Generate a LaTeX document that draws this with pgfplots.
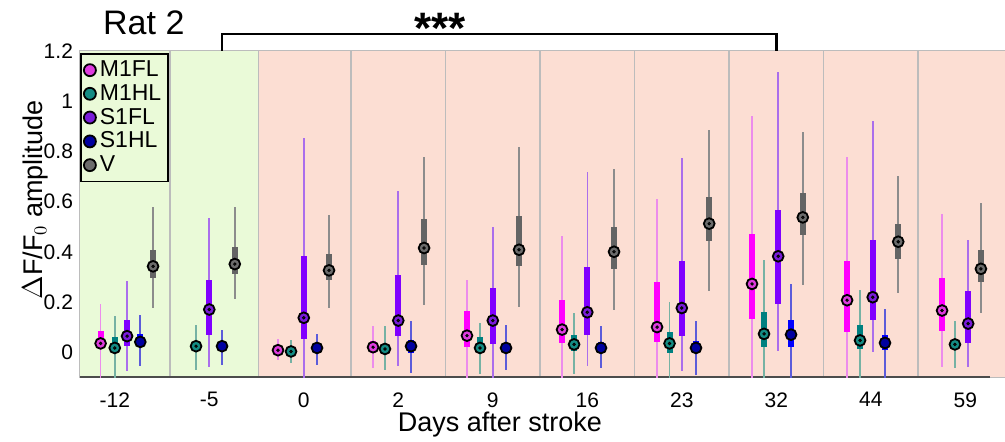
\documentclass[border=0pt]{standalone}
\usepackage{fontspec}
\setmainfont{Liberation Sans}
\usepackage{pgfplots}
\pgfplotsset{compat=1.18}
\usepackage{pgfplotstable}

\definecolor{grbg}{RGB}{234,250,216}
\definecolor{pkbg}{RGB}{252,222,211}
\definecolor{sepc}{RGB}{188,188,188}
\definecolor{mflb}{RGB}{255,0,255}
\definecolor{mflw}{RGB}{236,140,236}
\definecolor{mflm}{RGB}{222,60,222}
\definecolor{mhlb}{RGB}{0,128,128}
\definecolor{mhlw}{RGB}{118,178,164}
\definecolor{mhlm}{RGB}{20,140,132}
\definecolor{sflb}{RGB}{128,0,255}
\definecolor{sflw}{RGB}{170,110,236}
\definecolor{sflm}{RGB}{122,28,218}
\definecolor{shlb}{RGB}{0,0,255}
\definecolor{shlw}{RGB}{92,92,218}
\definecolor{shlm}{RGB}{0,0,160}
\definecolor{vb}{RGB}{100,100,100}
\definecolor{vw}{RGB}{140,140,140}
\definecolor{vm}{RGB}{108,108,108}

% columns: position, lower whisker, q1, median, q3, upper whisker
\pgfplotstableread{
x lo q1 med q3 hi
-0.15 -0.12 0.019 0.035 0.084 0.19
1.727 -0.032 0.0 0.008 0.02 0.053
2.733 -0.062 -0.003 0.02 0.044 0.106
3.727 -0.12 0.02 0.066 0.163 0.286
4.733 -0.12 0.035 0.09 0.207 0.464
5.738 -0.12 0.04 0.1 0.278 0.611
6.743 -0.12 0.134 0.272 0.472 0.941
7.749 -0.12 0.081 0.207 0.362 0.779
8.754 -0.058 0.084 0.166 0.296 0.55
}\mfl

\pgfplotstableread{
x lo q1 med q3 hi
0.0 -0.12 0.0 0.017 0.062 0.143
0.86 -0.072 0.01 0.024 0.035 0.11
1.865 -0.042 -0.005 0.003 0.01 0.048
2.859 -0.071 -0.009 0.013 0.031 0.103
3.865 -0.085 -0.003 0.017 0.061 0.117
4.86 -0.085 0.004 0.031 0.069 0.157
5.87 -0.12 -0.005 0.035 0.081 0.2
6.87 -0.12 0.021 0.073 0.161 0.366
7.886 -0.12 0.011 0.047 0.108 0.249
8.89 -0.062 0.011 0.031 0.053 0.123
}\mhl

\pgfplotstableread{
x lo q1 med q3 hi
0.13 -0.075 0.024 0.064 0.127 0.285
1.0 -0.058 0.068 0.17 0.289 0.534
2.0 -0.12 0.053 0.137 0.385 0.853
3.0 -0.056 0.064 0.126 0.306 0.644
4.0 -0.12 0.033 0.126 0.256 0.499
5.0 -0.053 0.07 0.159 0.338 0.716
6.0 -0.075 0.064 0.176 0.362 0.775
7.02 0.004 0.192 0.382 0.567 1.116
8.02 0.0 0.127 0.219 0.445 0.92
9.03 -0.058 0.037 0.114 0.245 0.445
}\sfl

\pgfplotstableread{
x lo q1 med q3 hi
0.27 -0.056 0.027 0.041 0.073 0.15
1.135 -0.049 0.012 0.024 0.035 0.09
2.14 -0.049 0.005 0.017 0.03 0.074
3.135 -0.082 -0.003 0.024 0.05 0.123
4.14 -0.069 0.0 0.017 0.035 0.11
5.145 -0.062 0.0 0.017 0.04 0.106
6.15 -0.089 -0.005 0.017 0.044 0.126
7.156 -0.12 0.021 0.07 0.127 0.273
8.15 -0.12 0.007 0.037 0.07 0.172
}\shl

\pgfplotstableread{
x lo q1 med q3 hi
0.405 0.176 0.296 0.342 0.408 0.58
1.27 0.21 0.313 0.351 0.419 0.58
2.267 0.175 0.286 0.326 0.392 0.547
3.273 0.187 0.346 0.415 0.532 0.777
4.278 0.18 0.342 0.408 0.544 0.819
5.283 0.167 0.332 0.4 0.499 0.729
6.29 0.243 0.441 0.512 0.62 0.886
7.28 0.266 0.468 0.537 0.634 0.876
8.29 0.236 0.371 0.44 0.511 0.7
9.165 0.157 0.278 0.332 0.406 0.594
}\vis

% #1 table, #2 whisker colour, #3 box colour
\newcommand{\whiskbox}[3]{%
  \addplot[forget plot, draw=none, error bars/.cd, y dir=both, y explicit,
    error mark=none, error bar style={draw=#2, line width=0.8pt}]
    table[x=x, y=med, y error plus expr=\thisrow{hi}-\thisrow{med},
      y error minus expr=\thisrow{med}-\thisrow{lo}] {#1};
  \addplot[forget plot, draw=none, error bars/.cd, y dir=both, y explicit,
    error mark=none, error bar style={draw=#3, line width=3pt}]
    table[x=x, y=med, y error plus expr=\thisrow{q3}-\thisrow{med},
      y error minus expr=\thisrow{med}-\thisrow{q1}] {#1};
}
\newcommand{\medmark}[2]{%
  \addplot[only marks, mark=*, mark size=2.7pt,
    mark options={fill=#2, draw=black, line width=0.9pt}] table[x=x, y=med] {#1};
}
\newcommand{\meddot}[1]{%
  \addplot[forget plot, only marks, mark=*, mark size=0.65pt,
    mark options={fill=black!85, draw=none}] table[x=x, y=med] {#1};
}

\begin{document}
\begin{tikzpicture}
\begin{axis}[
  name=ax,
  scale only axis, width=462.5pt, height=163.2pt,
  xmin=-0.368, xmax=9.42, ymin=-0.1, ymax=1.2,
  clip mode=individual,
  xtick={0,1,2,3,4,5,6,7,8,9},
  xticklabels={-12,-5,0,2,9,16,23,32,44,59},
  ytick={0,0.2,0.4,0.6,0.8,1,1.2},
  axis line style={sepc, line width=0.8pt},
  ytick style={gray!70, line width=0.6pt}, major tick length=2.5pt,
  xtick style={draw=none},
  tick label style={font=\fontsize{10.5}{12}\selectfont},
  xticklabel style={yshift=-4pt},
  /pgf/number format/assume math mode=true,
  legend style={at={(rel axis cs:0,0.994)}, anchor=north west, fill=grbg,
    draw=black, line width=0.9pt, font=\fontsize{11.5}{12}\selectfont,
    inner sep=1.5pt, row sep=-1.6pt, cells={anchor=west}},
  legend cell align=left,
  legend image code/.code={\draw[#1, mark size=3pt] plot coordinates {(3pt,0pt)};},
]
\fill[grbg] (axis cs:-0.368,-0.1) rectangle (axis cs:1.52,1.2);
\fill[pkbg] (axis cs:1.52,-0.1) rectangle (axis cs:9.42,1.2);
\foreach \s in {0.585,1.52,2.5,3.5,4.5,5.5,6.5,7.5,8.5}
  {\edef\tmp{\noexpand\draw[sepc, line width=0.8pt] (axis cs:\s,-0.1) -- (axis cs:\s,1.2);}\tmp}
\draw[black!70, line width=0.9pt] (axis cs:-0.368,-0.1) -- (axis cs:9.26,-0.1);

\whiskbox{\mfl}{mflw}{mflb}
\medmark{\mfl}{mflm}
\addlegendentry{M1FL}
\meddot{\mfl}

\whiskbox{\mhl}{mhlw}{mhlb}
\medmark{\mhl}{mhlm}
\addlegendentry{M1HL}
\meddot{\mhl}

\whiskbox{\sfl}{sflw}{sflb}
\medmark{\sfl}{sflm}
\addlegendentry{S1FL}
\meddot{\sfl}

\whiskbox{\shl}{shlw}{shlb}
\medmark{\shl}{shlm}
\addlegendentry{S1HL}

\whiskbox{\vis}{vw}{vb}
\medmark{\vis}{vm}
\addlegendentry{V}
\meddot{\vis}

\draw[black, line width=1.3pt] (axis cs:1.135,1.2) -- (axis cs:1.135,1.267)
  -- (axis cs:7.0,1.267) -- (axis cs:7.0,1.2);
\node[anchor=base, font=\fontsize{22}{22}\selectfont\bfseries, yshift=3.5pt]
  at (axis cs:3.44,1.2) {***};
\node[anchor=base, font=\fontsize{17}{19}\selectfont, yshift=8pt]
  at (rel axis cs:0.069,1) {Rat 2};
\node[anchor=base, font=\fontsize{13.5}{15}\selectfont, yshift=-26.9pt]
  at (rel axis cs:0.454,0) {Days after stroke};
\node[anchor=center, rotate=90, font=\fontsize{13.5}{15}\selectfont, yshift=22.5pt]
  at (rel axis cs:0,0.543) {$\Delta$F/F$_0$ amplitude};
\end{axis}
\pgfresetboundingbox
\path (ax.south west) ++(-40pt,-31.85pt) rectangle ++(502.5pt,220.5pt);
\end{tikzpicture}
\end{document}
